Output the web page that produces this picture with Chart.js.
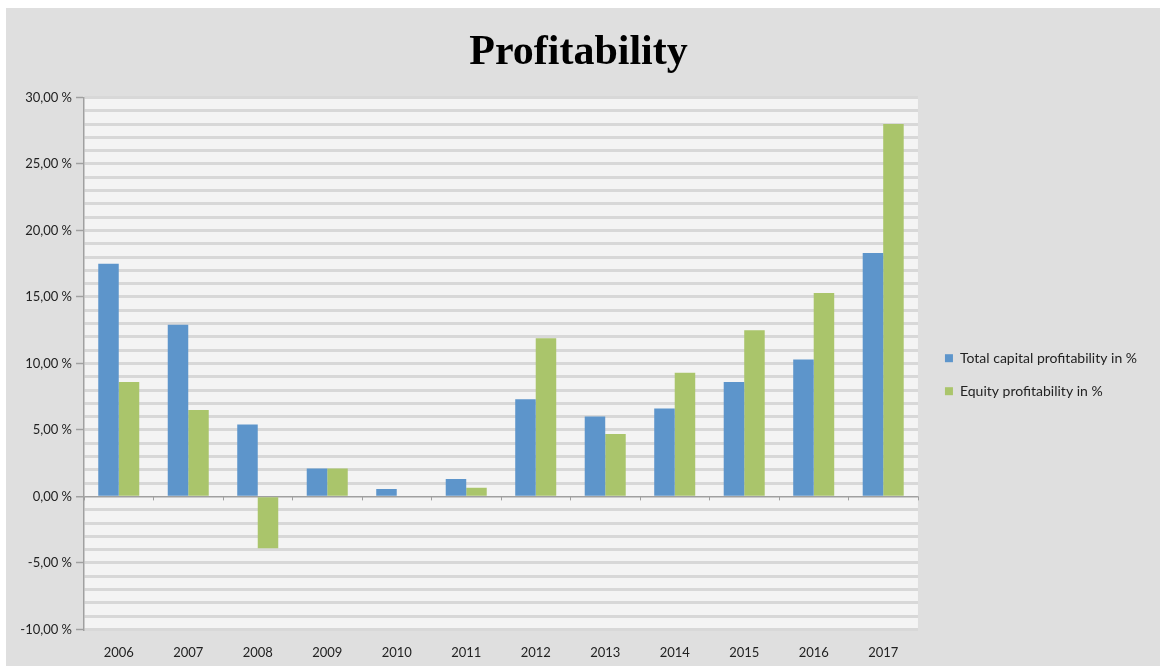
<!DOCTYPE html>
<html>
<head>
<meta charset="utf-8">
<title>Profitability</title>
<script src="https://cdn.jsdelivr.net/npm/chart.js@4.4.1/dist/chart.umd.min.js"></script>
<style>
  html, body { margin: 0; padding: 0; background: #ffffff; overflow: hidden; }
  #wrap {
    position: absolute; left: 6px; top: 8px;
    width: 1154px; height: 661px;
    background: #dfdfdf;
  }
</style>
</head>
<body>
<div id="wrap"><canvas id="profitChart"></canvas></div>
<script>
// Data
const years = ['2006', '2007', '2008', '2009', '2010', '2011', '2012', '2013', '2014', '2015', '2016', '2017'];
const totalCapital = [17.5, 12.9, 5.4, 2.1, 0.55, 1.3, 7.3, 6.0, 6.6, 8.6, 10.3, 18.3];
const equity = [8.6, 6.5, -3.9, 2.1, 0, 0.65, 11.9, 4.7, 9.3, 12.5, 15.3, 28.0];
const yTicks = [-10, -5, 0, 5, 10, 15, 20, 25, 30];

const fmtPct = v => v.toFixed(2).replace('.', ',') + ' %';

// light plot background + small category ticks on the zero line
const plotDecor = {
  id: 'plotDecor',
  afterLayout(chart) {
    // nudge the legend a bit away from the plot
    if (chart.legend) {
      chart.legend.left += 8;
      chart.legend.right += 8;
    }
  },
  beforeDraw(chart) {
    const { ctx, chartArea: a } = chart;
    ctx.save();
    ctx.fillStyle = '#f4f4f4';
    ctx.fillRect(a.left, a.top, a.right - a.left, a.bottom - a.top);
    ctx.restore();
  },
  afterDatasetsDraw(chart) {
    const { ctx, scales } = chart;
    const x = scales.x, y = scales.y;
    const y0 = y.getPixelForValue(0);
    const half = (x.getPixelForValue(1) - x.getPixelForValue(0)) / 2;
    ctx.save();
    ctx.strokeStyle = '#a0a0a0';
    ctx.lineWidth = 1;
    for (let i = 0; i <= years.length; i++) {
      const px = Math.round(x.getPixelForValue(i) - half) + 0.5;
      ctx.beginPath();
      ctx.moveTo(px, y0);
      ctx.lineTo(px, y0 + 4);
      ctx.stroke();
    }
    ctx.restore();
  }
};

new Chart(document.getElementById('profitChart'), {
  type: 'bar',
  data: {
    labels: years,
    datasets: [{
      label: 'Total capital profitability in %',
      data: totalCapital,
      backgroundColor: '#5d95cb'
    }, {
      label: 'Equity profitability in %',
      data: equity,
      backgroundColor: '#aac56b'
    }]
  },
  options: {
    responsive: true,
    maintainAspectRatio: false,
    animation: false,
    layout: { padding: { top: 0, right: 21, bottom: 0, left: 12 } },
    datasets: { bar: { barPercentage: 1, categoryPercentage: 0.59 } },
    plugins: {
      title: {
        display: true,
        text: 'Profitability',
        color: '#000',
        font: { family: '"Liberation Serif", serif', size: 42, weight: 'bold' },
        padding: { top: 20, bottom: 19 }
      },
      legend: {
        position: 'right',
        title: {
          display: true,
          text: '',
          font: { size: 2 },
          padding: { top: 70, bottom: 0 }
        },
        labels: {
          boxWidth: 8,
          boxHeight: 8,
          padding: 19,
          color: '#222',
          font: { family: 'Lato, sans-serif', size: 14 }
        }
      },
      tooltip: { enabled: false }
    },
    scales: {
      x: {
        grid: { display: false },
        border: { display: false },
        ticks: {
          color: '#222',
          padding: 8,
          font: { family: 'Lato, sans-serif', size: 13 }
        }
      },
      y: {
        min: -10,
        max: 30,
        afterFit(scale) { scale.width = 66; },
        afterBuildTicks(scale) {
          scale.ticks = [];
          for (let v = -10; v <= 30; v++) scale.ticks.push({ value: v });
        },
        border: { display: true, color: '#a0a0a0', width: 1.5 },
        grid: {
          drawTicks: true,
          tickLength: 8,
          color: c => c.tick && c.tick.value === 0 ? '#a0a0a0' : '#d8d8d8',
          lineWidth: c => c.tick && c.tick.value === 0 ? 1.5 : 3,
          tickColor: c => yTicks.includes(c.tick && c.tick.value) ? '#a0a0a0' : 'rgba(0,0,0,0)',
          tickWidth: 1.5
        },
        ticks: {
          color: '#222',
          padding: 4,
          autoSkip: false,
          font: { family: 'Lato, sans-serif', size: 13 },
          callback: v => yTicks.includes(v) ? fmtPct(v) : ''
        }
      }
    }
  },
  plugins: [plotDecor]
});
</script>
</body>
</html>
